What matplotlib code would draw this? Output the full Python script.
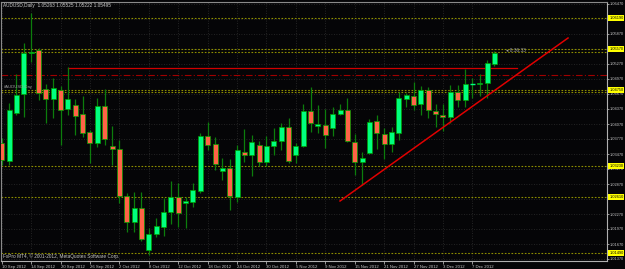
import numpy as np
import pandas as pd
import matplotlib
matplotlib.use("Agg")
import matplotlib.pyplot as plt
from matplotlib.patches import Rectangle

plt.rcParams['font.family'] = ['Liberation Sans', 'DejaVu Sans']

# ================= data =================
dates = pd.bdate_range('2012-09-10', '2012-12-12')

opens = [1.0369, 1.0333, 1.0429, 1.0467, 1.0549, 1.0555, 1.0477, 1.0457, 1.0475, 1.0437,
         1.0445, 1.0427, 1.0391, 1.0369, 1.0443, 1.0363, 1.0357, 1.0263, 1.0211, 1.0239,
         1.0155, 1.0187, 1.0201, 1.0231, 1.0261, 1.0249, 1.0251, 1.0273, 1.0383, 1.0367,
         1.0313, 1.0319, 1.0261, 1.0351, 1.0345, 1.0365, 1.0331, 1.0363, 1.0373, 1.0401,
         1.0345, 1.0363, 1.0433, 1.0403, 1.0405, 1.0399, 1.0427, 1.0435, 1.0371, 1.0331,
         1.0349, 1.0413, 1.0387, 1.0367, 1.0389, 1.0457, 1.0463, 1.0447, 1.0475, 1.0433,
         1.0425, 1.0421, 1.0471, 1.0455, 1.0486, 1.0487, 1.0489, 1.05263]
highs = [1.0379, 1.0449, 1.0507, 1.0569, 1.0629, 1.0559, 1.0487, 1.0499, 1.0483, 1.0521,
         1.0457, 1.0463, 1.0395, 1.0459, 1.0477, 1.0403, 1.0375, 1.0269, 1.0271, 1.0271,
         1.0199, 1.0219, 1.0259, 1.0293, 1.0289, 1.0261, 1.0289, 1.0389, 1.0411, 1.0381,
         1.0339, 1.0337, 1.0365, 1.0397, 1.0385, 1.0373, 1.0383, 1.0399, 1.0409, 1.0419,
         1.0369, 1.0447, 1.0481, 1.0445, 1.0437, 1.0441, 1.0447, 1.0459, 1.0387, 1.0351,
         1.0417, 1.0425, 1.0399, 1.0401, 1.0471, 1.0469, 1.0491, 1.0483, 1.0481, 1.0447,
         1.0447, 1.0485, 1.0485, 1.0517, 1.0499, 1.0507, 1.0535, 1.05525]
lows = [1.0325, 1.0325, 1.0425, 1.0421, 1.0531, 1.0455, 1.0409, 1.0419, 1.0365, 1.0425,
        1.0385, 1.0381, 1.0329, 1.0361, 1.0365, 1.0325, 1.0249, 1.0191, 1.0191, 1.0173,
        1.0145, 1.0181, 1.0183, 1.0207, 1.0201, 1.0199, 1.0241, 1.0269, 1.0355, 1.0315,
        1.0295, 1.0235, 1.0251, 1.0331, 1.0303, 1.0323, 1.0323, 1.0345, 1.0355, 1.0329,
        1.0329, 1.0361, 1.0391, 1.0389, 1.0359, 1.0383, 1.0425, 1.0371, 1.0305, 1.0285,
        1.0347, 1.0357, 1.0337, 1.0351, 1.0375, 1.0441, 1.0435, 1.0425, 1.0419, 1.0401,
        1.0393, 1.0409, 1.0441, 1.0441, 1.0459, 1.0463, 1.0459, 1.05222]
closes = [1.0335, 1.0435, 1.0465, 1.0549, 1.0551, 1.0469, 1.0457, 1.0479, 1.0435, 1.0457,
          1.0423, 1.0389, 1.0369, 1.0443, 1.0377, 1.0357, 1.0263, 1.0211, 1.0239, 1.0177,
          1.0187, 1.0203, 1.0231, 1.0261, 1.0229, 1.0253, 1.0275, 1.0383, 1.0365, 1.0327,
          1.0319, 1.0263, 1.0355, 1.0345, 1.0371, 1.0331, 1.0363, 1.0373, 1.0401, 1.0333,
          1.0363, 1.0433, 1.0409, 1.0407, 1.0385, 1.0427, 1.0435, 1.0373, 1.0331, 1.0339,
          1.0411, 1.0389, 1.0367, 1.0391, 1.0459, 1.0465, 1.0445, 1.0475, 1.0435, 1.0427,
          1.0421, 1.0471, 1.0455, 1.0487, 1.0487, 1.0489, 1.0529, 1.05495]

# horizontal levels (yellow dotted) and their axis labels
levels = [1.0619, 1.0557, 1.0551, 1.0475, 1.0471, 1.0323, 1.0261, 1.0149]
level_labels = [1.0619, 1.0557, 1.0475, 1.0323, 1.0261, 1.0149]

# red objects
resist_price = 1.0519
resist_span = (9, 70)
dashdot_price = 1.0505
trend_idx = (46.0, 77.0)
trend_price = (1.0253, 1.0579)

yticks = [round(1.0137 + 0.003 * k, 5) for k in range(18)]

# ================= style =================
BG = '#050507'
BULL = '#00FF7F'
BEAR = '#FF6347'
WICK = '#0C7D0C'
EDGE = '#00A000'
LEVEL = '#8F8F00'
GRID = '#2E2E2E'
TXT = '#C8C8C8'
FS = 2.8

W, H = 625, 269
fig = plt.figure(figsize=(W / 100, H / 100), dpi=100, facecolor=BG)
ax = fig.add_axes([1 / W, 8 / H, 606 / W, 259 / H], facecolor=BG)

ax.set_xlim(-0.1, 82.3)
ax.set_ylim(1.0133, 1.0651)

x = np.arange(len(opens))
tick_idx = x[::4]

# grid
for yt in yticks:
    ax.axhline(yt, color=GRID, lw=0.6, ls=(0, (1, 2)), zorder=0)
for ti in tick_idx:
    ax.axvline(ti, color=GRID, lw=0.6, ls=(0, (1, 2)), zorder=0)

# levels
for lv in levels:
    ax.axhline(lv, color=LEVEL, lw=0.8, ls=(0, (1.5, 1.5)), zorder=1)

ax.axhline(dashdot_price, color='#A00000', lw=0.8, ls=(0, (6, 2, 1, 2)), zorder=1)
ax.plot(resist_span, [resist_price, resist_price], color='#D00000', lw=0.9, zorder=1)

# candles
bw = 0.68
for i in x:
    o, h, l, c = opens[i], highs[i], lows[i], closes[i]
    ax.vlines(i, l, h, color=WICK, lw=0.9, zorder=2)
    lo, hi = min(o, c), max(o, c)
    col = BULL if c >= o else BEAR
    if hi - lo < 0.00012:
        ax.hlines((o + c) / 2, i - bw / 2, i + bw / 2, color=BULL, lw=1.0, zorder=3)
    else:
        ax.add_patch(Rectangle((i - bw / 2, lo), bw, hi - lo, facecolor=col,
                               edgecolor=EDGE, lw=0.5, zorder=3))

ax.plot(trend_idx, trend_price, color='#E00000', lw=1.1, zorder=4)

# axes
for s in ['top', 'left']:
    ax.spines[s].set_color('#8A8A8A')
    ax.spines[s].set_linewidth(0.8)
for s in ['right', 'bottom']:
    ax.spines[s].set_color('#B0B0B0')
    ax.spines[s].set_linewidth(0.8)

ax.yaxis.tick_right()
ax.set_yticks(yticks)
ax.set_yticklabels([f"{v:.5f}" for v in yticks])
ax.tick_params(axis='y', colors='#B0B0B0', labelcolor=TXT, labelsize=FS,
               length=1.5, width=0.6, pad=0.6)

ax.set_xticks(tick_idx)
ax.set_xticklabels([f"{d.day} {d:%b %Y}" for d in dates[::4]], ha='left')
ax.tick_params(axis='x', colors='#B0B0B0', labelcolor=TXT, labelsize=3.1,
               length=2, width=0.6, pad=1)

# highlighted level labels on the price axis
for lv in level_labels:
    ax.annotate(f"{lv:.5f}", xy=(1, lv), xycoords=('axes fraction', 'data'),
                xytext=(1.6, 0), textcoords='offset points', fontsize=FS,
                color='black', va='center', ha='left',
                bbox=dict(boxstyle='square,pad=0.25', fc='#FFFF00', ec='none'),
                annotation_clip=False)

# texts
fig.text(3 / W, 1 - 5 / H, "AUDUSD,Daily  1.05263 1.05525 1.05222 1.05495",
         color=TXT, fontsize=3.4, va='center', ha='left')
fig.text(3 / W, 1 - 256 / H, "FxPro MT4, \u00a9 2001-2012, MetaQuotes Software Corp.",
         color=TXT, fontsize=3.4, va='center', ha='left')
ax.text(0.3, 1.0477, "#AUDUSD,Day", color='#A0A0A0', fontsize=3.0,
        va='bottom', ha='left', zorder=5)
ax.text(68.6, 1.0553, "\u25c2 8:36:33", color='#A0A0A0', fontsize=3.4,
        va='center', ha='left', zorder=5)

fig.savefig("out.png", dpi=100, facecolor=BG)
